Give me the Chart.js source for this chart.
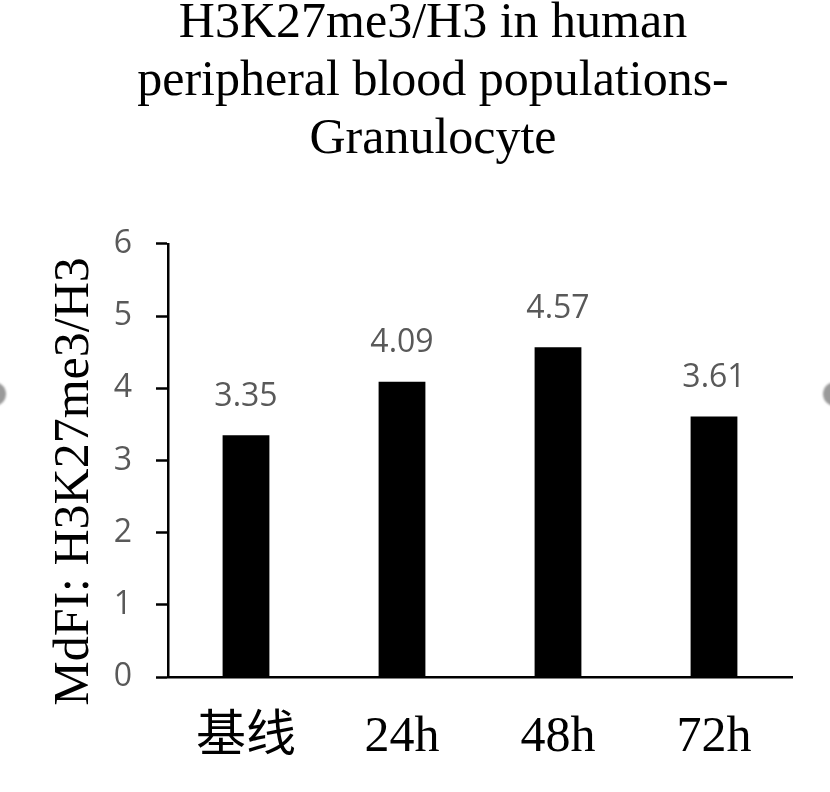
<!DOCTYPE html>
<html>
<head>
<meta charset="utf-8">
<script src="https://cdn.jsdelivr.net/npm/chart.js@4.4.1/dist/chart.umd.min.js"></script>
<style>
  html, body { margin: 0; padding: 0; background: #ffffff; overflow: hidden; }
  #wrap { position: relative; width: 830px; height: 792px; }
  canvas { position: absolute; left: 0; top: 0; }
  .nav { position: absolute; width: 24px; height: 24px; border-radius: 50%; background: #9a9a9a; filter: blur(1px); }
</style>
</head>
<body>
<div id="wrap">
  <canvas id="c" width="830" height="792"></canvas>
  <div class="nav" style="left:-18px; top:382px;"></div>
  <div class="nav" style="left:823px; top:382px;"></div>
</div>
<script>
const titleLines = ["H3K27me3/H3 in human", "peripheral blood populations-", "Granulocyte"];
const yAxisTitle = "MdFI: H3K27me3/H3";
const categories = ["基线", "24h", "48h", "72h"];
const values = [3.35, 4.09, 4.57, 3.61];
const yTicks = [0, 1, 2, 3, 4, 5, 6];

const serif = '"Liberation Serif", "Times New Roman", "Noto Sans CJK SC", serif';
const sans = '"Open Sans", "Noto Sans", sans-serif';
const gray = '#595959';

const valueLabels = {
  id: 'valueLabels',
  afterDatasetsDraw(chart) {
    const ctx = chart.ctx;
    const meta = chart.getDatasetMeta(0);
    ctx.save();
    ctx.font = '32px ' + sans;
    ctx.fillStyle = gray;
    ctx.textAlign = 'center';
    ctx.textBaseline = 'alphabetic';
    meta.data.forEach((el, i) => {
      ctx.fillText(values[i].toFixed(2), el.x, el.y - 29.5);
    });
    ctx.restore();
  }
};

const yTitle = {
  id: 'yTitle',
  afterDraw(chart) {
    const ctx = chart.ctx;
    const y = chart.scales.y;
    ctx.save();
    ctx.font = '50px ' + serif;
    ctx.fillStyle = '#000';
    ctx.textAlign = 'center';
    ctx.textBaseline = 'alphabetic';
    ctx.translate(88, (y.top + y.bottom) / 2 + 21);
    ctx.rotate(-Math.PI / 2);
    ctx.fillText(yAxisTitle, 0, 0);
    ctx.restore();
  }
};

new Chart(document.getElementById('c'), {
  type: 'bar',
  data: {
    labels: categories,
    datasets: [{
      data: values,
      backgroundColor: '#000000',
      borderWidth: 0,
      barPercentage: 1,
      categoryPercentage: 0.3
    }]
  },
  options: {
    responsive: false,
    animation: false,
    layout: { padding: { left: 74, right: 38, top: 0, bottom: 0 } },
    plugins: {
      legend: { display: false },
      tooltip: { enabled: false },
      title: {
        display: true,
        text: titleLines,
        color: '#000',
        font: { family: serif, size: 50, weight: 'normal', lineHeight: 1.16 },
        padding: { top: -5, bottom: 75 }
      }
    },
    scales: {
      x: {
        afterFit(s) { s.height = 115; },
        grid: { display: true, drawOnChartArea: false, drawTicks: false },
        border: { display: true, color: '#000', width: 2.5 },
        ticks: {
          color: '#000',
          padding: 31,
          font: { family: serif, size: 50 }
        }
      },
      y: {
        min: 0,
        max: 6,
        afterFit(s) { s.width = 94; },
        afterBuildTicks(s) { s.ticks = yTicks.map(v => ({ value: v })); },
        grid: { display: true, drawOnChartArea: false, drawTicks: true, tickLength: 12, tickColor: '#000', tickWidth: 2.5 },
        border: { display: true, color: '#000', width: 2.5 },
        ticks: {
          color: gray,
          padding: 24,
          font: { family: sans, size: 32 }
        }
      }
    }
  },
  plugins: [valueLabels, yTitle]
});
</script>
</body>
</html>
